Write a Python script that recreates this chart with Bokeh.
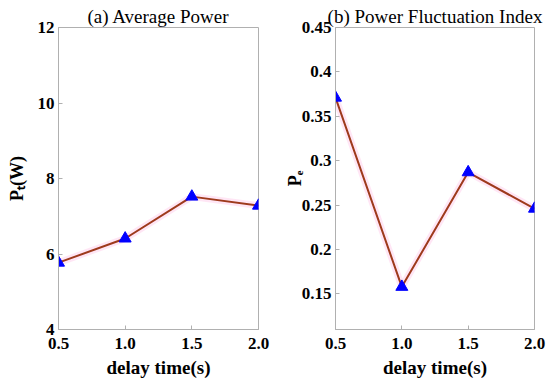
from bokeh.plotting import figure
from bokeh.layouts import row
from bokeh.models import Range1d, FixedTicker
from bokeh.embed import file_html
from bokeh.resources import INLINE

delay = [0.5, 1.0, 1.5, 2.0]
avg_power = [5.77, 6.41, 7.52, 7.28]
fluct_index = [0.371, 0.158, 0.287, 0.246]

x_ticks = [0.5, 1.0, 1.5, 2.0]
x_tick_labels = ["0.5", "1.0", "1.5", "2.0"]
y1_ticks = [4, 6, 8, 10, 12]
y1_tick_labels = ["4", "6", "8", "10", "12"]
y2_ticks = [0.15, 0.2, 0.25, 0.3, 0.35, 0.4, 0.45]
y2_tick_labels = ["0.15", "0.2", "0.25", "0.3", "0.35", "0.4", "0.45"]

FONT = "Liberation Serif"
LINE_COLOR = "#9e3a1c"
MARK_COLOR = "#0000ff"


def make(title, ys, y_range, y_ticks, y_labels, ylabel, width, left_border, right_border,
         label_standoff):
    p = figure(width=width, height=384, output_backend="svg", toolbar_location=None,
               x_range=Range1d(0.5, 2.0), y_range=y_range,
               min_border_left=left_border, min_border_right=right_border,
               min_border_top=27, min_border_bottom=55)
    p.title.text = title
    p.title.align = "center"
    p.title.text_font = FONT
    p.title.text_font_style = "normal"
    p.title.text_font_size = "19px"
    p.title.text_color = "black"
    p.title.standoff = 2
    p.grid.visible = False
    p.outline_line_color = "#b0b0b0"
    p.outline_line_width = 1
    p.background_fill_color = "white"
    p.border_fill_color = "white"

    p.xaxis.ticker = FixedTicker(ticks=x_ticks)
    p.xaxis.major_label_overrides = dict(zip(x_ticks, x_tick_labels))
    p.yaxis.ticker = FixedTicker(ticks=y_ticks)
    p.yaxis.major_label_overrides = dict(zip(y_ticks, y_labels))
    for ax in (p.xaxis, p.yaxis):
        ax.axis_line_color = "#b0b0b0"
        ax.major_tick_line_color = "#b0b0b0"
        ax.major_tick_in = 4
        ax.major_tick_out = 0
        ax.minor_tick_line_color = None
        ax.major_label_text_font = FONT
        ax.major_label_text_font_style = "bold"
        ax.major_label_text_font_size = "17px"
        ax.major_label_text_color = "black"
        ax.axis_label_text_font = FONT
        ax.axis_label_text_font_style = "bold"
        ax.axis_label_text_font_size = "19px"
        ax.axis_label_text_color = "black"
    p.xaxis.axis_label = "delay time(s)"
    p.xaxis.major_label_standoff = 8
    p.xaxis.axis_label_standoff = 5
    p.yaxis.axis_label = ylabel
    p.yaxis.axis_label_text_font_size = "18px"
    p.yaxis.major_label_standoff = 4
    p.yaxis.axis_label_standoff = label_standoff

    p.line(delay, ys, line_color="#ffd6ee", line_width=7, line_alpha=0.6)
    p.line(delay, ys, line_color=LINE_COLOR, line_width=2)
    p.scatter(delay, ys, marker="triangle", size=12, fill_color=MARK_COLOR,
              line_color=MARK_COLOR)
    return p


p1 = make("(a) Average Power", avg_power, Range1d(4, 12), y1_ticks, y1_tick_labels,
          "P\u209c(W)", 278, 58, 20, 8)
p2 = make("(b) Power Fluctuation Index", fluct_index, Range1d(0.11, 0.45), y2_ticks,
          y2_tick_labels, "P\u2091", 272, 57, 16, -6)

layout = row(p1, p2)
open("out.html", "w").write(file_html(layout, INLINE))
